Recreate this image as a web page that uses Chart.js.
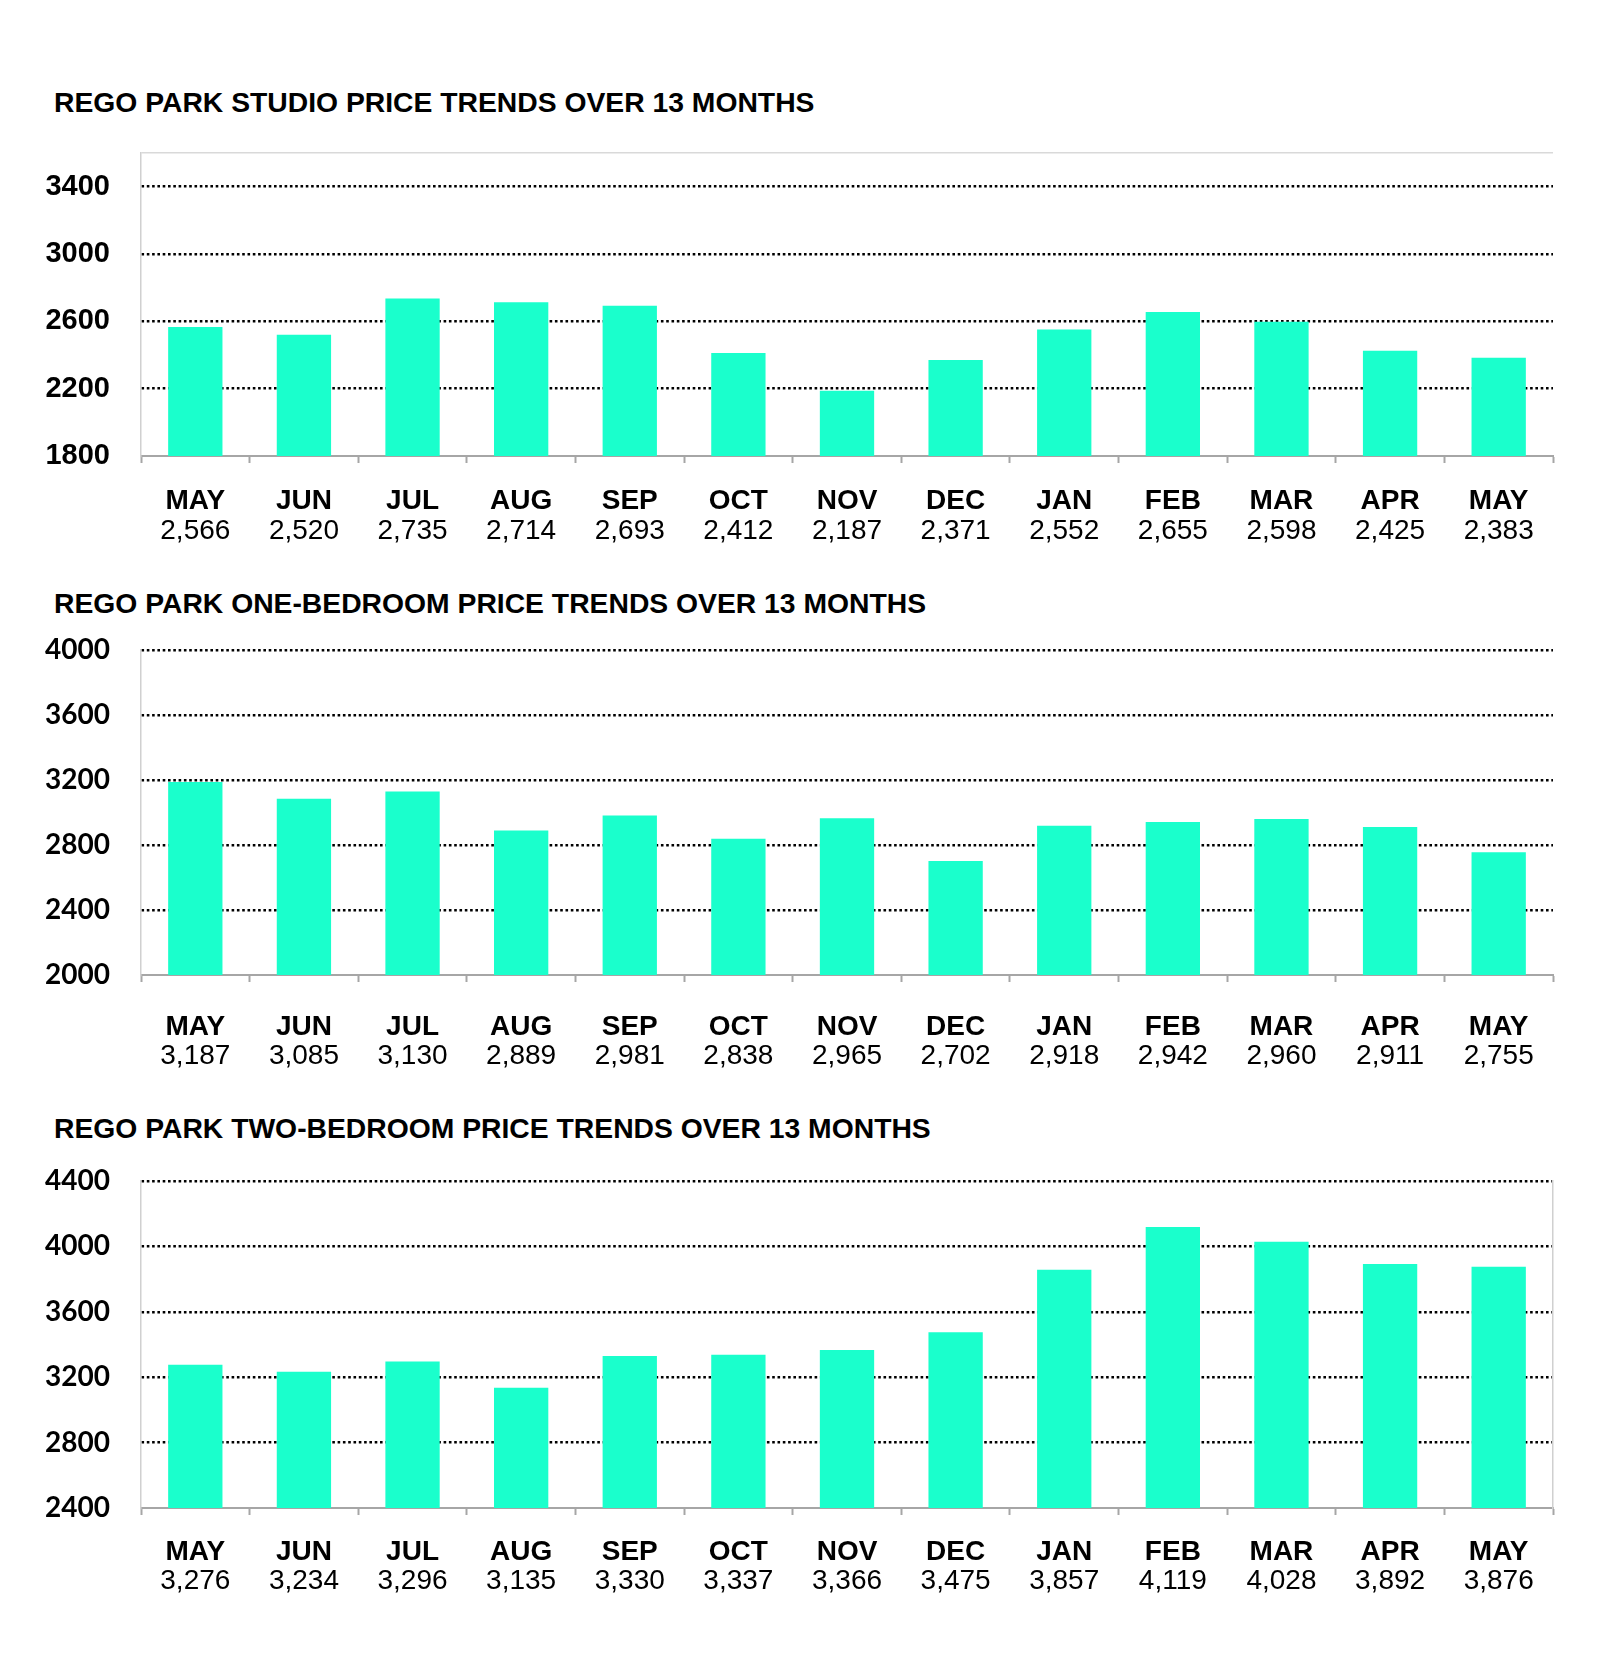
<!DOCTYPE html>
<html>
<head>
<meta charset="utf-8">
<script src="https://cdn.jsdelivr.net/npm/chart.js@4.4.1/dist/chart.umd.min.js"></script>
<style>
    body { margin: 0; background: #fff; }
    #page { position: relative; width: 1600px; height: 1674px; }
    .title {
        position: absolute;
        left: 54px;
        font: bold 28.3px "Liberation Sans", Arial, sans-serif;
        line-height: 32px;
        color: #000;
        white-space: nowrap;
    }
    .box { position: absolute; left: 0; width: 1600px; }
</style>
</head>
<body>
<div id="page">
    <div class="title" style="top:86px">REGO PARK STUDIO PRICE TRENDS OVER 13 MONTHS</div>
    <div class="box" style="top:123px;height:441px"><canvas id="chartStudio"></canvas></div>

    <div class="title" style="top:587px">REGO PARK ONE-BEDROOM PRICE TRENDS OVER 13 MONTHS</div>
    <div class="box" style="top:620px;height:469px"><canvas id="chartOneBed"></canvas></div>

    <div class="title" style="top:1112px">REGO PARK TWO-BEDROOM PRICE TRENDS OVER 13 MONTHS</div>
    <div class="box" style="top:1151px;height:464px"><canvas id="chartTwoBed"></canvas></div>
</div>

<script>
// data
const months = ['MAY', 'JUN', 'JUL', 'AUG', 'SEP', 'OCT', 'NOV', 'DEC', 'JAN', 'FEB', 'MAR', 'APR', 'MAY'];
const studioPrices = [2566, 2520, 2735, 2714, 2693, 2412, 2187, 2371, 2552, 2655, 2598, 2425, 2383];
const oneBedPrices = [3187, 3085, 3130, 2889, 2981, 2838, 2965, 2702, 2918, 2942, 2960, 2911, 2755];
const twoBedPrices = [3276, 3234, 3296, 3135, 3330, 3337, 3366, 3475, 3857, 4119, 4028, 3892, 3876];

// y ticks (studio top value is the plot border, no label)
const studioTicks = [1800, 2200, 2600, 3000, 3400, 3600];
const oneBedTicks = [2000, 2400, 2800, 3200, 3600, 4000];
const twoBedTicks = [2400, 2800, 3200, 3600, 4000, 4400];

const barColor = 'rgb(26, 255, 204)';

function makeChart(id, values, yTicks, cfg) {
    const ctx = document.getElementById(id).getContext('2d');
    const valueLabels = values.map(v => v.toLocaleString('en-US'));
    const lo = yTicks[0];
    const hi = yTicks[yTicks.length - 1];
    const isTopBorder = c => cfg.hideTop && c.tick && c.tick.value === hi;

    const scales = {
        x: {
            type: 'category',
            offset: true,
            weight: 0,
            grid: {
                offset: true,
                drawOnChartArea: false,
                drawTicks: true,
                tickLength: 7,
                tickColor: '#a6a6a6',
                tickWidth: 2
            },
            border: { color: '#a6a6a6', width: 2 },
            ticks: {
                color: '#000',
                padding: cfg.monthPad,
                maxRotation: 0,
                autoSkip: false,
                font: { family: '"Liberation Sans", Arial', weight: 'bold', size: 28, lineHeight: 1 }
            },
            afterFit: s => { s.height = cfg.monthBox; }
        },
        x2: {
            type: 'category',
            axis: 'x',
            position: 'bottom',
            labels: valueLabels,
            offset: true,
            weight: 1,
            grid: { display: false, drawTicks: false },
            border: { display: false },
            ticks: {
                color: '#000',
                padding: cfg.valuePad,
                maxRotation: 0,
                autoSkip: false,
                font: { family: '"Liberation Sans", Arial', size: 28, lineHeight: 1 }
            },
            afterFit: s => { s.height = 40; }
        },
        y: {
            min: lo,
            max: hi,
            afterBuildTicks: s => { s.ticks = yTicks.map(v => ({ value: v })); },
            grid: {
                drawTicks: true,
                tickLength: 31,
                tickColor: 'rgba(0,0,0,0)',
                lineWidth: c => isTopBorder(c) ? 1.5 : 2.6,
                color: c => {
                    if (!c.tick) return '#000';
                    if (c.tick.value === lo) return 'rgba(0,0,0,0)';
                    if (isTopBorder(c)) return '#d9d9d9';
                    return '#000';
                }
            },
            border: {
                color: '#d0d0d0',
                width: 1.5,
                dash: c => (c.tick && !isTopBorder(c)) ? [2.6, 2.7] : []
            },
            ticks: {
                color: '#000',
                padding: 0,
                font: { family: cfg.yFont, weight: 'bold', size: cfg.ySize },
                callback: v => (cfg.hideTop && v === hi) ? '' : v
            },
            afterFit: s => { s.width = 141; }
        }
    };
    if (cfg.rightBorder) {
        scales.y2 = {
            axis: 'y',
            position: 'right',
            min: lo,
            max: hi,
            grid: { drawOnChartArea: false, drawTicks: false },
            border: { color: '#d0d0d0', width: 1.5 },
            ticks: { display: false },
            afterFit: s => { s.width = 0; }
        };
    }
    return new Chart(ctx, {
        type: 'bar',
        data: {
            labels: months,
            datasets: [{
                data: values,
                backgroundColor: barColor,
                borderWidth: 0,
                barPercentage: 0.5,
                categoryPercentage: 1.0,
                xAxisID: 'x',
                yAxisID: 'y'
            }]
        },
        options: {
            responsive: true,
            maintainAspectRatio: false,
            animation: false,
            layout: { padding: { top: 30, left: 0, right: 47, bottom: 10 } },
            plugins: {
                legend: false,
                tooltip: { enabled: false }
            },
            scales: scales
        }
    });
}

makeChart('chartStudio', studioPrices, studioTicks, {
    yFont: '"Liberation Sans", Arial', ySize: 29, hideTop: true, monthPad: 24, monthBox: 58, valuePad: 3
});
makeChart('chartOneBed', oneBedPrices, oneBedTicks, {
    yFont: 'Lato', ySize: 28, hideTop: false, monthPad: 31, monthBox: 64, valuePad: 3
});
makeChart('chartTwoBed', twoBedPrices, twoBedTicks, {
    yFont: 'Lato', ySize: 28, hideTop: false, monthPad: 23, monthBox: 57, valuePad: 2, rightBorder: true
});
</script>
</body>
</html>
